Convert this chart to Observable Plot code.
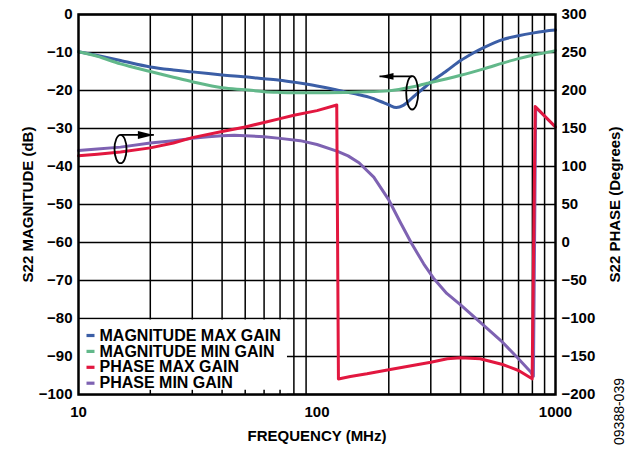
<!DOCTYPE html>
<html>
<head>
<meta charset="utf-8">
<script src="https://cdn.jsdelivr.net/npm/d3@7"></script>
<script src="https://cdn.jsdelivr.net/npm/@observablehq/plot@0.6"></script>
<style>
  html, body { margin: 0; padding: 0; background: #fff; }
  #chart svg { display: block; }
</style>
</head>
<body>
<div id="chart"></div>
<script>
// ---------- data ----------
const magMaxFreq = [10, 12, 15, 20, 25, 30, 40, 50, 60, 70, 80, 90, 100, 120, 130, 150, 170, 190, 200, 215, 230, 250, 270, 290, 300, 350, 400, 450, 500, 600, 700, 800, 900, 1000];
const magMaxDb   = [-9.8, -10.8, -12.1, -13.8, -14.6, -15.1, -15.9, -16.4, -16.9, -17.3, -17.8, -18.3, -18.8, -19.8, -20.3, -21.1, -22.0, -23.2, -23.8, -24.5, -23.9, -22.0, -20.2, -18.6, -17.8, -14.8, -12.1, -10.2, -8.7, -6.6, -5.6, -4.9, -4.4, -4.1];

const magMinFreq = [10, 12, 15, 20, 25, 30, 40, 50, 60, 70, 80, 100, 130, 150, 200, 250, 270, 290, 300, 400, 500, 600, 700, 800, 900, 1000];
const magMinDb   = [-9.8, -11.0, -13.0, -15.0, -16.5, -17.7, -19.3, -19.8, -20.3, -20.5, -20.6, -20.6, -20.5, -20.4, -20.1, -19.1, -18.6, -18.1, -17.9, -16.0, -14.3, -12.8, -11.6, -10.7, -10.1, -9.5];

const phMaxFreq = [10, 12, 15, 20, 25, 30, 40, 50, 60, 70, 80, 100, 121, 123, 138, 162, 200, 300, 352, 400, 483, 600, 700, 798, 822, 1000];
const phMaxDeg  = [114, 116, 119, 124.5, 131, 138, 146, 152, 158, 163, 167.5, 173.5, 181, -179.5, -176.3, -172.8, -167.5, -157.5, -153, -151.7, -153, -160.5, -168.4, -179.4, 179, 152];

const phMinFreq = [10, 12, 15, 20, 25, 30, 35, 40, 45, 50, 60, 70, 85, 100, 122, 135, 150, 173, 200, 224, 250, 280, 308, 350, 400, 480, 590, 690, 786, 808, 826, 1000];
const phMinDeg  = [121, 123, 125.5, 131, 134, 137, 139, 140.5, 141, 140.5, 139, 137, 134, 129, 120, 114, 105, 86, 56, 26, -2, -28, -47, -67, -82, -104, -129, -151, -170, -176, 178, 152];

const seriesNames  = ["MAGNITUDE MAX GAIN", "MAGNITUDE MIN GAIN", "PHASE MAX GAIN", "PHASE MIN GAIN"];
const seriesColors = ["#3b5ea6", "#62b88a", "#e2173f", "#7e62b2"];

const xTicks      = [10, 100, 1000];
const xMinorGrid  = [20, 30, 40, 50, 60, 70, 80, 90, 200, 300, 400, 500, 600, 700, 800, 900];
const dbTicks     = [0, -10, -20, -30, -40, -50, -60, -70, -80, -90, -100];
const phaseTicks  = [300, 250, 200, 150, 100, 50, 0, -50, -100, -150, -200];

// phase (right axis, -200..300) drawn on the dB scale (-100..0)
const phaseToDb = p => (p - 300) / 5;
const fmt = v => v < 0 ? "\u2212" + Math.abs(v) : String(v);

const magMax = magMaxFreq.map((f, i) => ({f, v: magMaxDb[i]}));
const magMin = magMinFreq.map((f, i) => ({f, v: magMinDb[i]}));
const phMax  = phMaxFreq.map((f, i) => ({f, v: phaseToDb(phMaxDeg[i])}));
const phMin  = phMinFreq.map((f, i) => ({f, v: phaseToDb(phMinDeg[i])}));

// annotation ellipses + arrows (data coordinates: MHz, dB)
const annoEllipses = [{f: 15.0, v: -35.4, rx: 6, ry: 14.2}, {f: 250.7, v: -20.6, rx: 6, ry: 16.7}];
const annoArrows   = [{f1: 15.0, f2: 20.7, v: -31.7, dir: 1}, {f1: 250.7, f2: 182.8, v: -16.3, dir: -1}];

// ---------- symbols ----------
const K = 0.5523;
const ellipseSymbol = (rx, ry) => ({
  draw(c) {
    c.moveTo(rx, 0);
    c.bezierCurveTo(rx, K * ry, K * rx, ry, 0, ry);
    c.bezierCurveTo(-K * rx, ry, -rx, K * ry, -rx, 0);
    c.bezierCurveTo(-rx, -K * ry, -K * rx, -ry, 0, -ry);
    c.bezierCurveTo(K * rx, -ry, rx, -K * ry, rx, 0);
    c.closePath();
  }
});
const headRight = {draw(c) { c.moveTo(0, 0); c.lineTo(-16, -4); c.lineTo(-16, 4); c.closePath(); }};
const headLeft  = {draw(c) { c.moveTo(0, 0); c.lineTo(14, -3.4); c.lineTo(14, 3.4); c.closePath(); }};
const swatch    = {draw(c) { c.rect(-4, -1.6, 8, 3.2); }};

const FONT = "Liberation Sans, Arial, Helvetica, sans-serif";
const gridStroke = "#000";

const marks = [
  // grid
  Plot.ruleX(xMinorGrid, {stroke: gridStroke, strokeWidth: 1.5}),
  Plot.ruleY(dbTicks, {stroke: gridStroke, strokeWidth: 1.5}),
  // legend background
  Plot.rect([0], {x1: 10, x2: 75.2, y1: -100, y2: -80.4, fill: "white"}),
  // inner minor ticks along the bottom under the legend
  Plot.ruleX(xMinorGrid.filter(d => d < 75), {y1: -100, y2: -98.9, stroke: gridStroke, strokeWidth: 1.5}),
  // curves
  Plot.line(magMax, {x: "f", y: "v", stroke: seriesColors[0], strokeWidth: 3, curve: "catmull-rom"}),
  Plot.line(magMin, {x: "f", y: "v", stroke: seriesColors[1], strokeWidth: 3, curve: "catmull-rom"}),
  Plot.line(phMin,  {x: "f", y: "v", stroke: seriesColors[3], strokeWidth: 3}),
  Plot.line(phMax,  {x: "f", y: "v", stroke: seriesColors[2], strokeWidth: 3}),
  // annotations
  ...annoEllipses.map(e => Plot.dot([e], {x: "f", y: "v", r: 5, symbol: ellipseSymbol(e.rx, e.ry), stroke: "black", strokeWidth: 1.8, fill: "none"})),
  Plot.link(annoArrows, {x1: "f1", x2: "f2", y1: "v", y2: "v", stroke: "black", strokeWidth: 1.8}),
  ...annoArrows.map(a => Plot.dot([a], {x: "f2", y: "v", r: 5, symbol: a.dir > 0 ? headRight : headLeft, fill: "black", stroke: "none"})),
  // frame
  Plot.frame({stroke: "black", strokeWidth: 2.5}),
  // axes
  Plot.axisY({anchor: "left", ticks: dbTicks, tickFormat: fmt, tickSize: 0, tickPadding: 6, label: null, fontSize: 15, fontWeight: "bold", fill: "black"}),
  Plot.axisY({anchor: "right", ticks: phaseTicks.map(phaseToDb), tickFormat: d => fmt(Math.round(300 + 5 * d)), tickSize: 0, tickPadding: 6, label: null, fontSize: 15, fontWeight: "bold", fill: "black"}),
  Plot.axisX({ticks: xTicks, tickFormat: d => String(d), tickSize: 0, tickPadding: 12, label: null, fontSize: 15, fontWeight: "bold", fill: "black"}),
  // titles
  Plot.text(["S22 MAGNITUDE (dB)"], {frameAnchor: "left", dx: -50, rotate: -90, textAnchor: "middle", lineAnchor: "middle", fontSize: 15, fontWeight: "bold", fill: "black"}),
  Plot.text(["S22 PHASE (Degrees)"], {frameAnchor: "right", dx: 60, rotate: -90, textAnchor: "middle", lineAnchor: "middle", fontSize: 15, fontWeight: "bold", fill: "black"}),
  Plot.text(["FREQUENCY (MHz)"], {frameAnchor: "bottom", dy: 42, textAnchor: "middle", lineAnchor: "middle", fontSize: 15, fontWeight: "bold", fill: "black"}),
  Plot.text(["09388-039"], {frameAnchor: "bottom-right", dx: 64, dy: 17, rotate: -90, textAnchor: "middle", lineAnchor: "middle", fontSize: 14, fill: "black"}),
  // legend
  ...seriesNames.flatMap((name, i) => [
    Plot.dot([name], {frameAnchor: "bottom-left", dx: 12, dy: -59 + i * 15.9, r: 4, symbol: swatch, fill: seriesColors[i], stroke: "none"}),
    Plot.text([name], {frameAnchor: "bottom-left", dx: 21, dy: -59 + i * 15.9, textAnchor: "start", lineAnchor: "middle", fontSize: 16, fontWeight: "bold", fill: "black"})
  ])
];

const chart = Plot.plot({
  width: 629,
  height: 452,
  marginLeft: 78,
  marginRight: 74,
  marginTop: 14,
  marginBottom: 58,
  style: {fontFamily: FONT, background: "white", color: "black", overflow: "visible"},
  x: {type: "log", domain: [10, 1000]},
  y: {domain: [-100, 0]},
  marks
});
document.getElementById("chart").appendChild(chart);
</script>
</body>
</html>
